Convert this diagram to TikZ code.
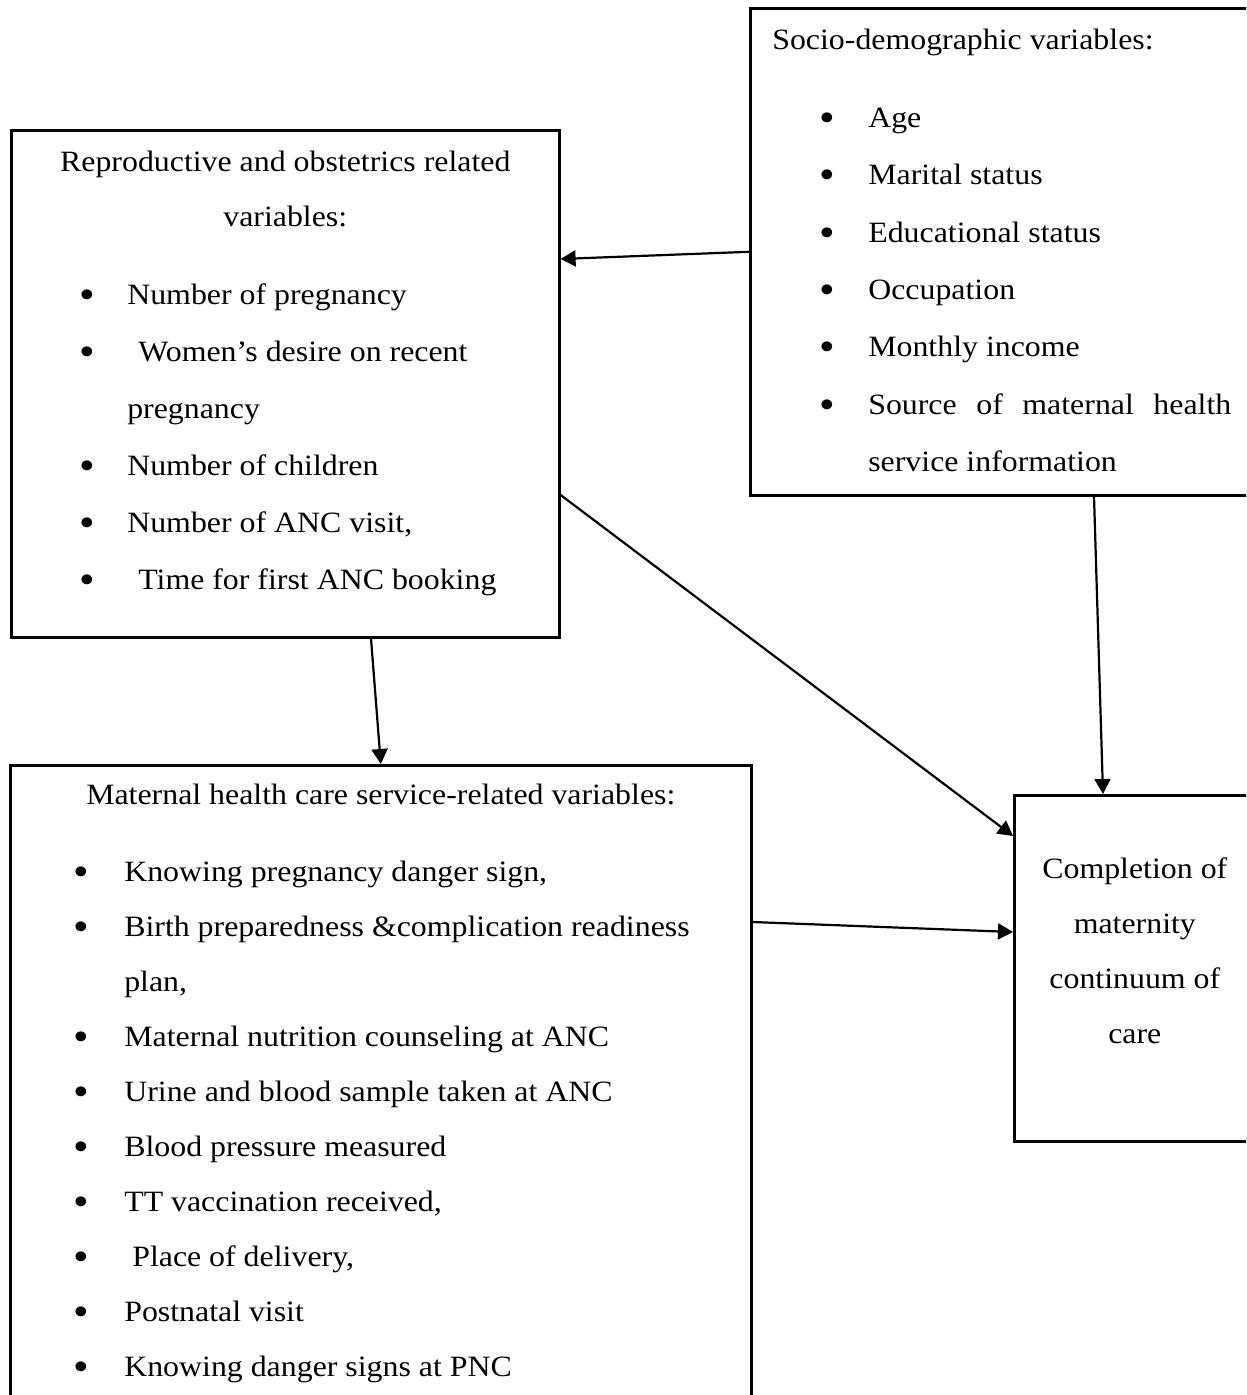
\documentclass[tikz,border=0pt]{standalone}
\usepackage{graphicx}
\usepackage{fontspec}
\setmainfont{Liberation Serif}[FakeStretch=1.08]
\usetikzlibrary{arrows.meta}
\newlength{\pxu}
\setlength{\pxu}{0.5pt}
\newlength{\dotgap}
\newcommand{\listfont}[1]{\fontsize{14.75pt}{#1}\selectfont}
\newcommand{\bigdot}{\raisebox{-4\pxu}{\scalebox{1.4}{\textbullet}}}
\newcommand{\bitem}[2][0]{\par\noindent\llap{\makebox[0pt]{\bigdot}\hspace{\dotgap}}\hspace*{#1\pxu}#2}

\tikzset{
  varbox/.style={draw, line width=1.3pt, inner sep=0pt, anchor=north west},
  conn/.style={line width=1.1pt, -{Triangle[length=7.5pt, width=8pt]}}
}

\begin{document}
\begin{tikzpicture}[x=\pxu, y=-\pxu]
  \useasboundingbox (0,0) rectangle (1246,1395);
  \clip (0,0) rectangle (1246,1395);

  \node[varbox] (socio) at (749,7) {%
    \begin{minipage}[c][487\pxu][t]{515\pxu}
      \listfont{28.7pt}\leftskip=22\pxu
      \rule{0pt}{41\pxu}Socio-demographic variables:\par
      \vspace{20.6\pxu}
      \leftskip=118\pxu \rightskip=34\pxu \setlength{\dotgap}{41\pxu}
      \bitem{Age}
      \bitem{Marital status}
      \bitem{Educational status}
      \bitem{Occupation}
      \bitem{Monthly income}
      \bitem{Source of maternal health\linebreak service information}\par
    \end{minipage}};

  \node[varbox] (repro) at (10,129) {%
    \begin{minipage}[c][507\pxu][t]{548\pxu}
      {\centering\listfont{27.5pt}\rule{0pt}{41\pxu}Reproductive and obstetrics related\\variables:\par}
      \vspace{21\pxu}
      \listfont{28.5pt}\leftskip=116\pxu \setlength{\dotgap}{40\pxu}
      \bitem{Number of pregnancy}
      \bitem[11]{Women’s desire on recent\newline pregnancy}
      \bitem{Number of children}
      \bitem{Number of ANC visit,}
      \bitem[11]{Time for first ANC booking}\par
    \end{minipage}};

  \node[varbox] (maternal) at (9,764) {%
    \begin{minipage}[c][700\pxu][t]{741\pxu}
      \listfont{27.5pt}%
      {\centering\rule{0pt}{39\pxu}Maternal health care service-related variables:\par}
      \vspace{22\pxu}
      \leftskip=114\pxu \setlength{\dotgap}{43\pxu}
      \bitem{Knowing pregnancy danger sign,}
      \bitem{Birth preparedness \&complication readiness\newline plan,}
      \bitem{Maternal nutrition counseling at ANC}
      \bitem{Urine and blood sample taken at ANC}
      \bitem{Blood pressure measured}
      \bitem{TT vaccination received,}
      \bitem[8]{Place of delivery,}
      \bitem{Postnatal visit}
      \bitem{Knowing danger signs at PNC}\par
    \end{minipage}};

  \node[varbox] (outcome) at (1013,794) {%
    \begin{minipage}[c][346\pxu][t]{241\pxu}
      \centering\listfont{27.5pt}%
      \rule{0pt}{83\pxu}Completion of\\maternity\\continuum of\\care\par
    \end{minipage}};

  \draw[conn] (socio.west) -- ([yshift=-130\pxu]repro.north east);
  \draw[conn] ([yshift=-366\pxu]repro.north east) -- ([yshift=-42\pxu]outcome.north west);
  \draw[conn] ([xshift=345\pxu]socio.south west) -- ([xshift=90\pxu]outcome.north west);
  \draw[conn] ([xshift=361\pxu]repro.south west) -- (maternal.north);
  \draw[conn] ([yshift=-158\pxu]maternal.north east) -- ([yshift=-138\pxu]outcome.north west);
\end{tikzpicture}
\end{document}
